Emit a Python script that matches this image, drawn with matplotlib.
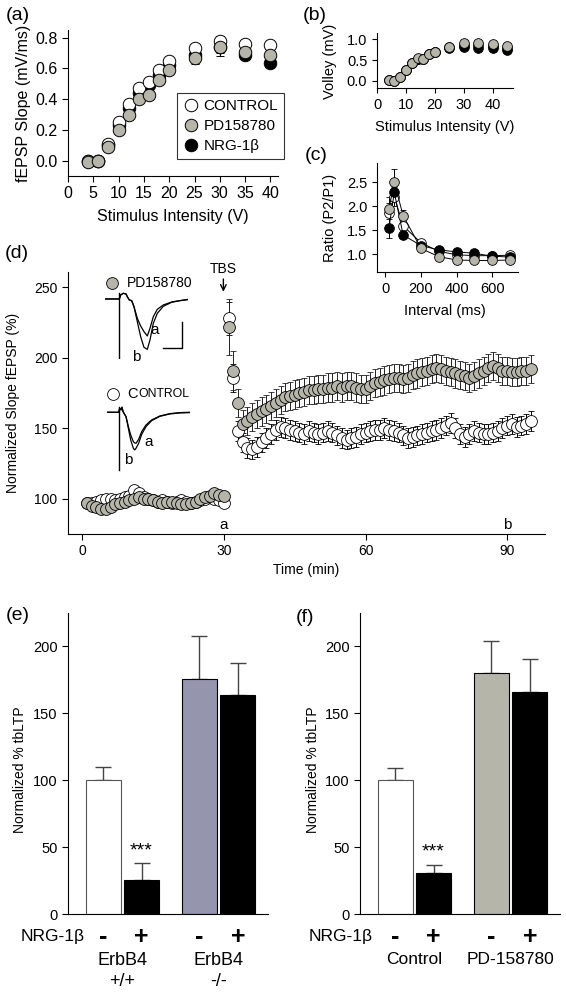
import matplotlib
matplotlib.use("Agg")
import matplotlib.pyplot as plt
from matplotlib.lines import Line2D
import numpy as np

plt.rcParams['font.family'] = ['Liberation Sans', 'DejaVu Sans']
plt.rcParams['axes.linewidth'] = 0.8
plt.rcParams['xtick.major.width'] = 0.8
plt.rcParams['ytick.major.width'] = 0.8
plt.rcParams['xtick.major.size'] = 4
plt.rcParams['ytick.major.size'] = 4

GRAY = '#B5B5AA'
BLUEGRAY = '#9595AD'

# ---------------- data ----------------
# (a) input-output
io_x = [4, 6, 8, 10, 12, 14, 16, 18, 20, 25, 30, 35, 40]
io_control = [0.0, 0.0, 0.11, 0.25, 0.37, 0.47, 0.51, 0.59, 0.65, 0.73, 0.78, 0.76, 0.75]
io_control_err = [0.01, 0.01, 0.01, 0.01, 0.01, 0.01, 0.01, 0.01, 0.01, 0.02, 0.03, 0.02, 0.03]
io_pd = [-0.01, 0.0, 0.09, 0.20, 0.30, 0.40, 0.425, 0.525, 0.59, 0.67, 0.74, 0.71, 0.69]
io_pd_err = [0.01, 0.01, 0.01, 0.01, 0.01, 0.01, 0.01, 0.01, 0.01, 0.04, 0.06, 0.03, 0.03]
io_nrg = [0.0, 0.0, 0.10, 0.23, 0.34, 0.44, 0.49, 0.56, 0.62, 0.69, 0.74, 0.69, 0.635]
io_nrg_err = [0.01, 0.01, 0.01, 0.01, 0.01, 0.01, 0.01, 0.01, 0.01, 0.03, 0.04, 0.03, 0.02]

# (b) fiber volley
vol_x = [4, 6, 8, 10, 12, 14, 16, 18, 20, 25, 30, 35, 40, 45]
vol_control = [0.02, 0.0, 0.10, 0.26, 0.42, 0.53, 0.52, 0.64, 0.70, 0.81, 0.86, 0.85, 0.84, 0.80]
vol_pd = [0.02, 0.0, 0.10, 0.26, 0.42, 0.54, 0.52, 0.65, 0.70, 0.82, 0.92, 0.90, 0.89, 0.84]
vol_nrg = [0.02, 0.0, 0.10, 0.26, 0.42, 0.53, 0.52, 0.64, 0.70, 0.80, 0.82, 0.78, 0.78, 0.74]

# (c) paired-pulse ratio
ppf_x = [20, 50, 100, 200, 300, 400, 500, 600, 700]
ppf_control = [1.85, 2.20, 1.59, 1.24, 1.06, 0.99, 0.97, 0.97, 0.98]
ppf_control_err = [0.35, 0.20, 0.05, 0.03, 0.03, 0.03, 0.03, 0.03, 0.03]
ppf_nrg = [1.54, 2.29, 1.40, 1.18, 1.09, 1.05, 1.02, 0.96, 0.94]
ppf_nrg_err = [0.20, 0.15, 0.05, 0.03, 0.03, 0.03, 0.03, 0.03, 0.03]
ppf_pd = [1.94, 2.50, 1.80, 1.12, 0.95, 0.88, 0.87, 0.87, 0.88]
ppf_pd_err = [0.12, 0.28, 0.12, 0.04, 0.03, 0.03, 0.03, 0.03, 0.03]

# (d) time course
time_base = list(range(1, 31))
time_post = list(range(31, 96))
ctl_base = [97, 97, 98, 99, 100, 100, 99, 100, 101, 102, 106, 104, 101, 100, 99,
            98, 99, 98, 97, 98, 99, 98, 97, 98, 99, 100, 101, 100, 99, 97]
pd_base = [97, 95, 94, 93, 93, 94, 96, 97, 98, 99, 100, 101, 100, 100, 99,
           98, 97, 98, 98, 97, 96, 96, 97, 98, 100, 101, 102, 104, 103, 102]
ctl_post = [228, 186, 148, 140, 136, 135, 137, 140, 143, 146, 149, 151, 150, 149, 148,
            147, 146, 148, 147, 146, 147, 148, 147, 145, 143, 142, 143, 144, 146, 147,
            148, 149, 149, 150, 149, 148, 147, 145, 143, 144, 145, 146, 147, 148, 149,
            150, 152, 154, 150, 146, 144, 146, 148, 147, 146, 146, 147, 148, 150, 152,
            153, 151, 152, 153, 155]
pd_post = [222, 191, 168, 153, 155, 158, 160, 162, 164, 166, 168, 170, 172, 173, 174,
           175, 176, 177, 177, 178, 178, 179, 179, 180, 179, 180, 180, 179, 178, 178,
           180, 182, 183, 184, 185, 186, 186, 185, 186, 188, 189, 190, 191, 192, 193,
           192, 191, 190, 189, 188, 187, 186, 187, 189, 191, 193, 194, 193, 191, 191,
           190, 190, 191, 191, 192]
ctl_base_err = [3] * 30
pd_base_err = [3] * 30
ctl_post_err = [12, 10] + [7] * 63
pd_post_err = [20, 14, 10] + [10] * 62

# (d) inset traces (ms, mV)
pd_trace_t = [0, 4, 4.3, 4.7, 5.5, 6.3, 6.8, 7.3, 8.0, 8.7, 9.7, 10.7, 11.7, 12.7,
              13.5, 14.5, 15.7, 17.5, 20.0, 22.5, 25.0]
pd_trace_a = [0, 0, 0, 0.12, 0.17, 0.15, 0.05, -0.03, -0.05, -0.23, -0.58, -0.81, -0.98, -1.11,
              -0.88, -0.53, -0.31, -0.18, -0.09, -0.05, -0.02]
pd_trace_b = [0, 0, 0, 0.12, 0.17, 0.15, 0.05, -0.03, -0.05, -0.23, -0.68, -1.13, -1.45, -1.51,
              -1.23, -0.73, -0.43, -0.22, -0.10, -0.05, -0.01]
ctl_trace_t = [0, 3.2, 3.6, 3.9, 4.3, 4.6, 4.9, 5.3, 5.8, 6.5, 7.2, 8.0, 8.4, 8.8, 9.6,
               10.5, 11.8, 13.5, 16.0, 19.0, 22.0, 25.0]
ctl_trace_a = [0, 0, 0, 0.12, 0.07, 0.15, 0.02, -0.05, -0.13, -0.43, -0.68, -0.88, -0.92, -0.93,
               -0.81, -0.58, -0.38, -0.23, -0.11, -0.04, -0.01, 0]
ctl_trace_b = [0, 0, 0, 0.12, 0.07, 0.15, 0.02, -0.05, -0.13, -0.48, -0.83, -1.08, -1.13, -1.08,
               -0.93, -0.66, -0.43, -0.25, -0.12, -0.05, -0.02, -0.01]

# (e) and (f) bars
bar_pos = [1.0, 2.1, 3.75, 4.85]
e_vals = [100, 25.5, 176, 163.5]
e_errs = [10, 12.5, 31.5, 24]
e_colors = ['white', 'black', BLUEGRAY, 'black']
f_vals = [100, 31, 180.5, 166]
f_errs = [9, 6, 23.5, 24.5]
f_colors = ['white', 'black', GRAY, 'black']
nrg_signs = ['-', '+', '-', '+']
e_groups = ['ErbB4\n+/+', 'ErbB4\n-/-']
f_groups = ['Control', 'PD-158780']

# ---------------- figure ----------------
W, H = 566, 994
fig = plt.figure(figsize=(W / 100, H / 100), dpi=100)


def ax_px(l, t, r, b, z=0):
    a = fig.add_axes([l / W, 1 - b / H, (r - l) / W, (b - t) / H], zorder=z)
    a.spines['top'].set_visible(False)
    a.spines['right'].set_visible(False)
    a.patch.set_visible(False)
    return a


def ftext(x, y, s, **kw):
    return fig.text(x / W, 1 - y / H, s, **kw)


# (a)
axa = ax_px(68, 30, 278, 176)
ms_a = 9
series_a = [(io_nrg, io_nrg_err, 'black', 'NRG-1\u03b2'),
            (io_control, io_control_err, 'white', 'CONTROL'),
            (io_pd, io_pd_err, GRAY, 'PD158780')]
for y, e, fc, lab in series_a:
    axa.errorbar(io_x, y, yerr=e, fmt='o', ms=ms_a, mfc=fc, mec='black', mew=0.7,
                 ecolor='black', elinewidth=0.8, capsize=3)
axa.set_xlim(0, 41.5)
axa.set_ylim(-0.1, 0.85)
axa.set_xticks(range(0, 41, 5))
axa.set_yticks([0.0, 0.2, 0.4, 0.6, 0.8])
axa.set_yticklabels(['0.0', '0.2', '0.4', '0.6', '0.8'])
axa.tick_params(labelsize=11.5)
handles = [Line2D([], [], ls='none', marker='o', ms=ms_a, mfc=fc, mec='black', mew=0.7)
           for _, _, fc, _ in series_a]
labels = [lab for _, _, _, lab in series_a]
order = [1, 2, 0]
leg = axa.legend([handles[i] for i in order], [labels[i] for i in order], loc='upper left',
                 bbox_to_anchor=(177 / W, 1 - 93 / H), bbox_transform=fig.transFigure,
                 fontsize=11, frameon=True, fancybox=False, edgecolor='black',
                 handletextpad=0.35, borderpad=0.4, labelspacing=0.4, handlelength=1.0,
                 borderaxespad=0)
leg.get_frame().set_linewidth(0.8)
ftext(24, 103, 'fEPSP Slope (mV/ms)', rotation=90, ha='center', va='center', fontsize=11.5)
ftext(173, 217, 'Stimulus Intensity (V)', ha='center', va='center', fontsize=11.5)
ftext(6, 16, '(a)', ha='left', va='center', fontsize=14)

# (b)
axb = ax_px(377, 33, 513, 88)
for y, fc in [(vol_control, 'white'), (vol_nrg, 'black'), (vol_pd, GRAY)]:
    axb.plot(vol_x, y, 'o', ms=7, mfc=fc, mec='black', mew=0.6)
axb.set_xlim(0, 47)
axb.set_ylim(-0.17, 1.15)
axb.set_xticks([0, 10, 20, 30, 40])
axb.set_yticks([0.0, 0.5, 1.0])
axb.set_yticklabels(['0.0', '0.5', '1.0'])
axb.tick_params(labelsize=10.5, length=3.5)
ftext(330, 61, 'Volley (mV)', rotation=90, ha='center', va='center', fontsize=10.5)
ftext(445, 127, 'Stimulus Intensity (V)', ha='center', va='center', fontsize=10.5)
ftext(303, 16, '(b)', ha='left', va='center', fontsize=14)

# (c)
axc = ax_px(377, 163, 518, 272, z=2)
for y, e, fc in [(ppf_control, ppf_control_err, 'white'), (ppf_nrg, ppf_nrg_err, 'black'),
                 (ppf_pd, ppf_pd_err, GRAY)]:
    axc.errorbar(ppf_x, y, yerr=e, fmt='-o', color='black', lw=0.7, ms=7, mfc=fc,
                 mec='black', mew=0.6, ecolor='black', elinewidth=0.7, capsize=2.5)
axc.set_xlim(-47, 745)
axc.set_ylim(0.63, 2.9)
axc.set_xticks([0, 200, 400, 600])
axc.set_yticks([1.0, 1.5, 2.0, 2.5])
axc.set_yticklabels(['1.0', '1.5', '2.0', '2.5'])
axc.tick_params(labelsize=10.5, length=3.5)
ftext(330, 218, 'Ratio (P2/P1)', rotation=90, ha='center', va='center', fontsize=10.5)
ftext(445, 311, 'Interval (ms)', ha='center', va='center', fontsize=10.5)
ftext(305, 155, '(c)', ha='left', va='center', fontsize=14)

# (d)
axd = ax_px(68, 272, 545, 534, z=1)
ms_d = 8.5
axd.errorbar(time_base + time_post, ctl_base + ctl_post, yerr=ctl_base_err + ctl_post_err,
             fmt='o', ms=ms_d, mfc='white', mec='black', mew=0.6, ecolor='black',
             elinewidth=0.7, capsize=2.5)
axd.errorbar(time_base + time_post, pd_base + pd_post, yerr=pd_base_err + pd_post_err,
             fmt='o', ms=ms_d, mfc=GRAY, mec='black', mew=0.6, ecolor='#222222',
             elinewidth=0.7, capsize=2.5)
axd.set_xlim(-3, 98)
axd.set_ylim(75, 261)
axd.set_xticks([0, 30, 60, 90])
axd.set_yticks([100, 150, 200, 250])
axd.tick_params(labelsize=10)
axd.text(30, 81.5, 'a', ha='center', va='center', fontsize=11)
axd.text(90, 81.5, 'b', ha='center', va='center', fontsize=11)
axd.annotate('', xy=(29.9, 245), xytext=(29.9, 258),
             arrowprops=dict(arrowstyle='->', lw=1, color='black'), annotation_clip=False)
axd.text(29.9, 263, 'TBS', ha='center', va='center', fontsize=10, clip_on=False)
axd.plot([6.4], [253], 'o', ms=ms_d, mfc=GRAY, mec='black', mew=0.6)
axd.text(9.4, 253, 'PD158780', ha='left', va='center', fontsize=10)
axd.plot([6.6], [174.5], 'o', ms=ms_d, mfc='white', mec='black', mew=0.6)
axd.text(9.6, 174.5, 'C', ha='left', va='center', fontsize=10.5)
axd.text(11.9, 174.2, 'ONTROL', ha='left', va='center', fontsize=8.8)
ftext(13, 403, 'Normalized Slope fEPSP (%)', rotation=90, ha='center', va='center', fontsize=10)
ftext(306, 570, 'Time (min)', ha='center', va='center', fontsize=10)
ftext(5, 254, '(d)', ha='left', va='center', fontsize=14)

# inset traces
ins1 = fig.add_axes([105 / W, 1 - 359 / H, 83.3 / W, 66.7 / H], zorder=3)
ins1.axis('off')
ins1.plot(pd_trace_t, pd_trace_a, color='black', lw=0.9)
ins1.plot(pd_trace_t, pd_trace_b, color='black', lw=0.9)
ins1.plot([4.3, 4.3], [0.17, -1.78], color='black', lw=1.0)
ins1.plot([17.5, 23, 23], [-1.48, -1.48, -0.68], color='black', lw=1.0)
ins1.text(15.0, -0.93, 'a', ha='center', va='center', fontsize=11)
ins1.text(9.5, -1.73, 'b', ha='center', va='center', fontsize=11)
ins1.set_xlim(0, 25)
ins1.set_ylim(-1.8, 0.2)

ins2 = fig.add_axes([106.7 / W, 1 - 472.3 / H, 83.3 / W, 66.7 / H], zorder=3)
ins2.axis('off')
ins2.plot(ctl_trace_t, ctl_trace_a, color='black', lw=0.9)
ins2.plot(ctl_trace_t, ctl_trace_b, color='black', lw=0.9)
ins2.plot([3.6, 3.6], [0.17, -1.73], color='black', lw=1.0)
ins2.text(12.5, -0.88, 'a', ha='center', va='center', fontsize=11)
ins2.text(6.5, -1.43, 'b', ha='center', va='center', fontsize=11)
ins2.set_xlim(0, 25)
ins2.set_ylim(-1.8, 0.2)


# (e), (f)
def bar_panel(ax, vals, errs, colors, groups, nrg_right, group_size):
    edge = ['#555555', 'black', 'black', 'black']
    ax.bar(bar_pos, vals, width=1.0, color=colors, edgecolor=edge, linewidth=0.8, zorder=2)
    ax.errorbar(bar_pos, vals, yerr=[[0] * 4, errs], fmt='none', ecolor='#444444',
                elinewidth=1.0, capsize=6, capthick=1.0, zorder=1)
    ax.set_xlim(0, 5.71)
    ax.set_ylim(0, 225)
    ax.set_xticks([])
    ax.set_yticks([0, 50, 100, 150, 200])
    ax.tick_params(labelsize=10.5)
    ax.text(bar_pos[1], vals[1] + errs[1] + 3, '***', ha='center', va='bottom', fontsize=14)
    tr = ax.get_xaxis_transform()
    for xp, s in zip(bar_pos, nrg_signs):
        ax.text(xp, -0.075, s, transform=tr, ha='center', va='center', fontsize=18,
                fontweight='bold')
    ax.text(nrg_right, -0.075, 'NRG-1\u03b2', transform=ax.transAxes, ha='right',
            va='center', fontsize=12.5)
    for i, g in enumerate(groups):
        cx = (bar_pos[2 * i] + bar_pos[2 * i + 1]) / 2
        ax.text(cx, -0.125, g, transform=tr, ha='center', va='top', fontsize=group_size,
                linespacing=1.3)


axe = ax_px(68, 613, 268, 914)
bar_panel(axe, e_vals, e_errs, e_colors, e_groups, 0.085, 13)
ftext(20, 770, 'Normalized % tbLTP', rotation=90, ha='center', va='center', fontsize=10)
ftext(6, 616, '(e)', ha='left', va='center', fontsize=14)

axf = ax_px(360, 613, 560, 914)
bar_panel(axf, f_vals, f_errs, f_colors, f_groups, 0.065, 12.5)
ftext(313, 770, 'Normalized % tbLTP', rotation=90, ha='center', va='center', fontsize=10)
ftext(296, 617, '(f)', ha='left', va='center', fontsize=14)

fig.savefig('out.png', dpi=100)
